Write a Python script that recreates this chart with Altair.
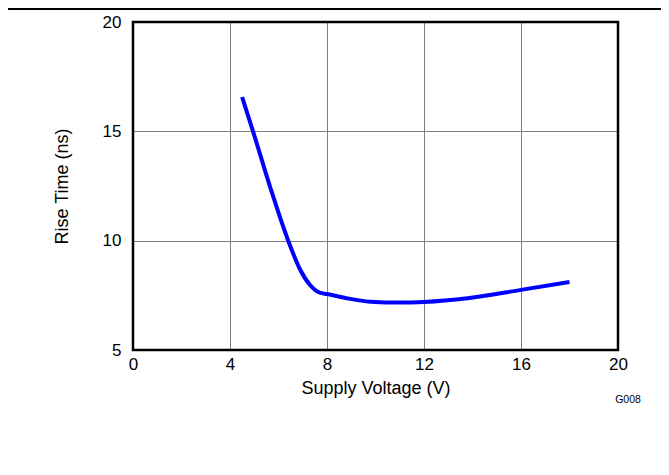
import altair as alt
import pandas as pd

voltage = [4.5, 4.95, 5.65, 6.4, 6.9, 7.3, 7.7, 8.0, 8.8, 9.8, 11.0, 12.0, 13.8, 16.0, 18.0]
rise_time = [16.57, 15.0, 12.47, 10.0, 8.66, 7.97, 7.62, 7.56, 7.37, 7.21, 7.17, 7.2, 7.37, 7.75, 8.11]
x_ticks = [0, 4, 8, 12, 16, 20]
y_ticks = [5, 10, 15, 20]

df = pd.DataFrame({"v": voltage, "t": rise_time})
FONT = "Liberation Sans"

line = alt.Chart(df).mark_line(color="#0000FF", strokeWidth=4, interpolate="monotone").encode(
    x=alt.X("v:Q", scale=alt.Scale(domain=[0, 20], nice=False),
            axis=alt.Axis(values=x_ticks, title="Supply Voltage (V)", ticks=False, domain=False,
                          grid=True, gridColor="#808080", gridWidth=1,
                          labelFontSize=17, labelFont=FONT, labelColor="black", labelPadding=6,
                          labelFlush=False, labelOverlap=False,
                          titleFontSize=18, titleFont=FONT, titleFontWeight="normal", titleColor="black",
                          titleBaseline="middle", titleY=38)),
    y=alt.Y("t:Q", scale=alt.Scale(domain=[5, 20], nice=False),
            axis=alt.Axis(values=y_ticks, title="Rise Time (ns)", ticks=False, domain=False,
                          grid=True, gridColor="#808080", gridWidth=1,
                          labelFontSize=17, labelFont=FONT, labelColor="black", labelPadding=12,
                          labelFlush=False, labelOverlap=False,
                          titleFontSize=18, titleFont=FONT, titleFontWeight="normal", titleColor="black",
                          titleBaseline="middle", titleX=-71, titleY=164)),
)

one = pd.DataFrame({"a": [0]})

border = alt.Chart(one).mark_rect(fill=None, fillOpacity=0, stroke="black", strokeWidth=2.5).encode(
    x=alt.value(0), x2=alt.value(485), y=alt.value(0), y2=alt.value(328)
)

top_rule = alt.Chart(one).mark_rule(color="black", strokeWidth=1.8).encode(
    x=alt.value(-133), x2=alt.value(536), y=alt.value(-13)
)

code = alt.Chart(one).mark_text(
    text="G008", fontSize=10.5, font=FONT, color="black", align="center", baseline="middle"
).encode(x=alt.value(495), y=alt.value(378))

chart = alt.layer(line, border, top_rule, code).properties(
    width=485, height=328,
    autosize=alt.AutoSizeParams(type="none"),
    padding={"left": 125, "top": 14, "right": 43, "bottom": 100},
).configure_view(stroke=None).configure(background="white")

chart.save("out.html", embed_options={"renderer": "svg", "actions": False})
